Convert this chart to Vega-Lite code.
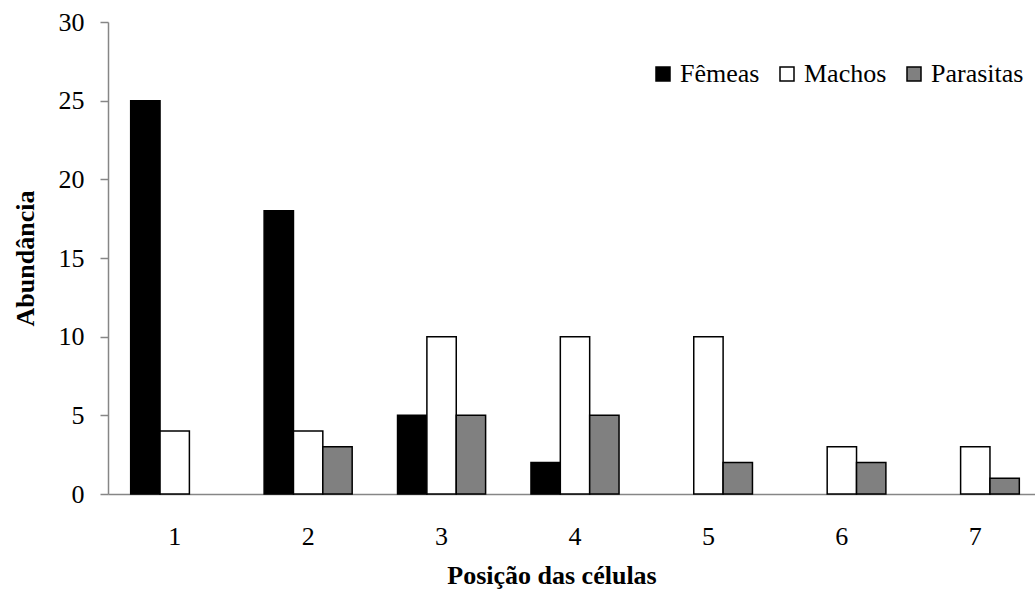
{
  "$schema": "https://vega.github.io/schema/vega-lite/v6.json",
  "width": 934,
  "height": 472,
  "autosize": {"type": "none"},
  "padding": {"left": 108, "top": 22, "right": 0, "bottom": 98},
  "background": "white",
  "config": {
    "view": {"stroke": null},
    "font": "Liberation Serif",
    "text": {"font": "Liberation Serif"},
    "legend": {"labelFont": "Liberation Serif", "labelFontSize": 26, "labelColor": "black", "gridAlign": "each"}
  },
  "data": {
    "values": [
      {"posicao": "1", "grupo": "Fêmeas", "abundancia": 25},
      {"posicao": "1", "grupo": "Machos", "abundancia": 4},
      {"posicao": "2", "grupo": "Fêmeas", "abundancia": 18},
      {"posicao": "2", "grupo": "Machos", "abundancia": 4},
      {"posicao": "2", "grupo": "Parasitas", "abundancia": 3},
      {"posicao": "3", "grupo": "Fêmeas", "abundancia": 5},
      {"posicao": "3", "grupo": "Machos", "abundancia": 10},
      {"posicao": "3", "grupo": "Parasitas", "abundancia": 5},
      {"posicao": "4", "grupo": "Fêmeas", "abundancia": 2},
      {"posicao": "4", "grupo": "Machos", "abundancia": 10},
      {"posicao": "4", "grupo": "Parasitas", "abundancia": 5},
      {"posicao": "5", "grupo": "Machos", "abundancia": 10},
      {"posicao": "5", "grupo": "Parasitas", "abundancia": 2},
      {"posicao": "6", "grupo": "Machos", "abundancia": 3},
      {"posicao": "6", "grupo": "Parasitas", "abundancia": 2},
      {"posicao": "7", "grupo": "Machos", "abundancia": 3},
      {"posicao": "7", "grupo": "Parasitas", "abundancia": 1}
    ]
  },
  "mark": {"type": "bar", "stroke": "black", "strokeWidth": 1.5},
  "encoding": {
    "x": {
      "field": "posicao",
      "type": "ordinal",
      "scale": {"domain": ["1", "2", "3", "4", "5", "6", "7"], "paddingInner": 0.34, "paddingOuter": 0.17},
      "axis": {
        "title": "Posição das células",
        "labelAngle": 0,
        "ticks": false,
        "tickSize": 0,
        "labelPadding": 50,
        "labelBaseline": "alphabetic",
        "labelFont": "Liberation Serif",
        "labelFontSize": 26,
        "labelColor": "black",
        "domainColor": "#868686",
        "domainWidth": 1.5,
        "titleFont": "Liberation Serif",
        "titleFontSize": 26,
        "titleFontWeight": "bold",
        "titleColor": "black",
        "titleX": 443.5,
        "titleY": 89,
        "titleBaseline": "alphabetic"
      }
    },
    "xOffset": {
      "field": "grupo",
      "type": "nominal",
      "scale": {"domain": ["Fêmeas", "Machos", "Parasitas"], "paddingInner": 0, "paddingOuter": 0}
    },
    "y": {
      "field": "abundancia",
      "type": "quantitative",
      "scale": {"domain": [0, 30], "nice": false},
      "axis": {
        "title": "Abundância",
        "values": [0, 5, 10, 15, 20, 25, 30],
        "grid": false,
        "tickSize": 8,
        "tickColor": "#868686",
        "tickWidth": 1.5,
        "domainColor": "#868686",
        "domainWidth": 1.5,
        "labelPadding": 16,
        "labelFont": "Liberation Serif",
        "labelFontSize": 26,
        "labelColor": "black",
        "titleFont": "Liberation Serif",
        "titleFontSize": 26,
        "titleFontWeight": "bold",
        "titleColor": "black",
        "titleX": -75,
        "titleY": 236,
        "titleAngle": -90,
        "titleBaseline": "alphabetic"
      }
    },
    "fill": {
      "field": "grupo",
      "type": "nominal",
      "scale": {"domain": ["Fêmeas", "Machos", "Parasitas"], "range": ["black", "white", "#808080"]},
      "legend": {
        "orient": "none",
        "legendX": 542,
        "legendY": 39,
        "direction": "horizontal",
        "columns": 3,
        "gridAlign": "each",
        "title": null,
        "labelFont": "Liberation Serif",
        "labelFontSize": 26,
        "labelColor": "black",
        "symbolType": "square",
        "symbolSize": 196,
        "symbolStrokeColor": "black",
        "symbolStrokeWidth": 1.5,
        "labelOffset": 4,
        "columnPadding": 14
      }
    }
  }
}
